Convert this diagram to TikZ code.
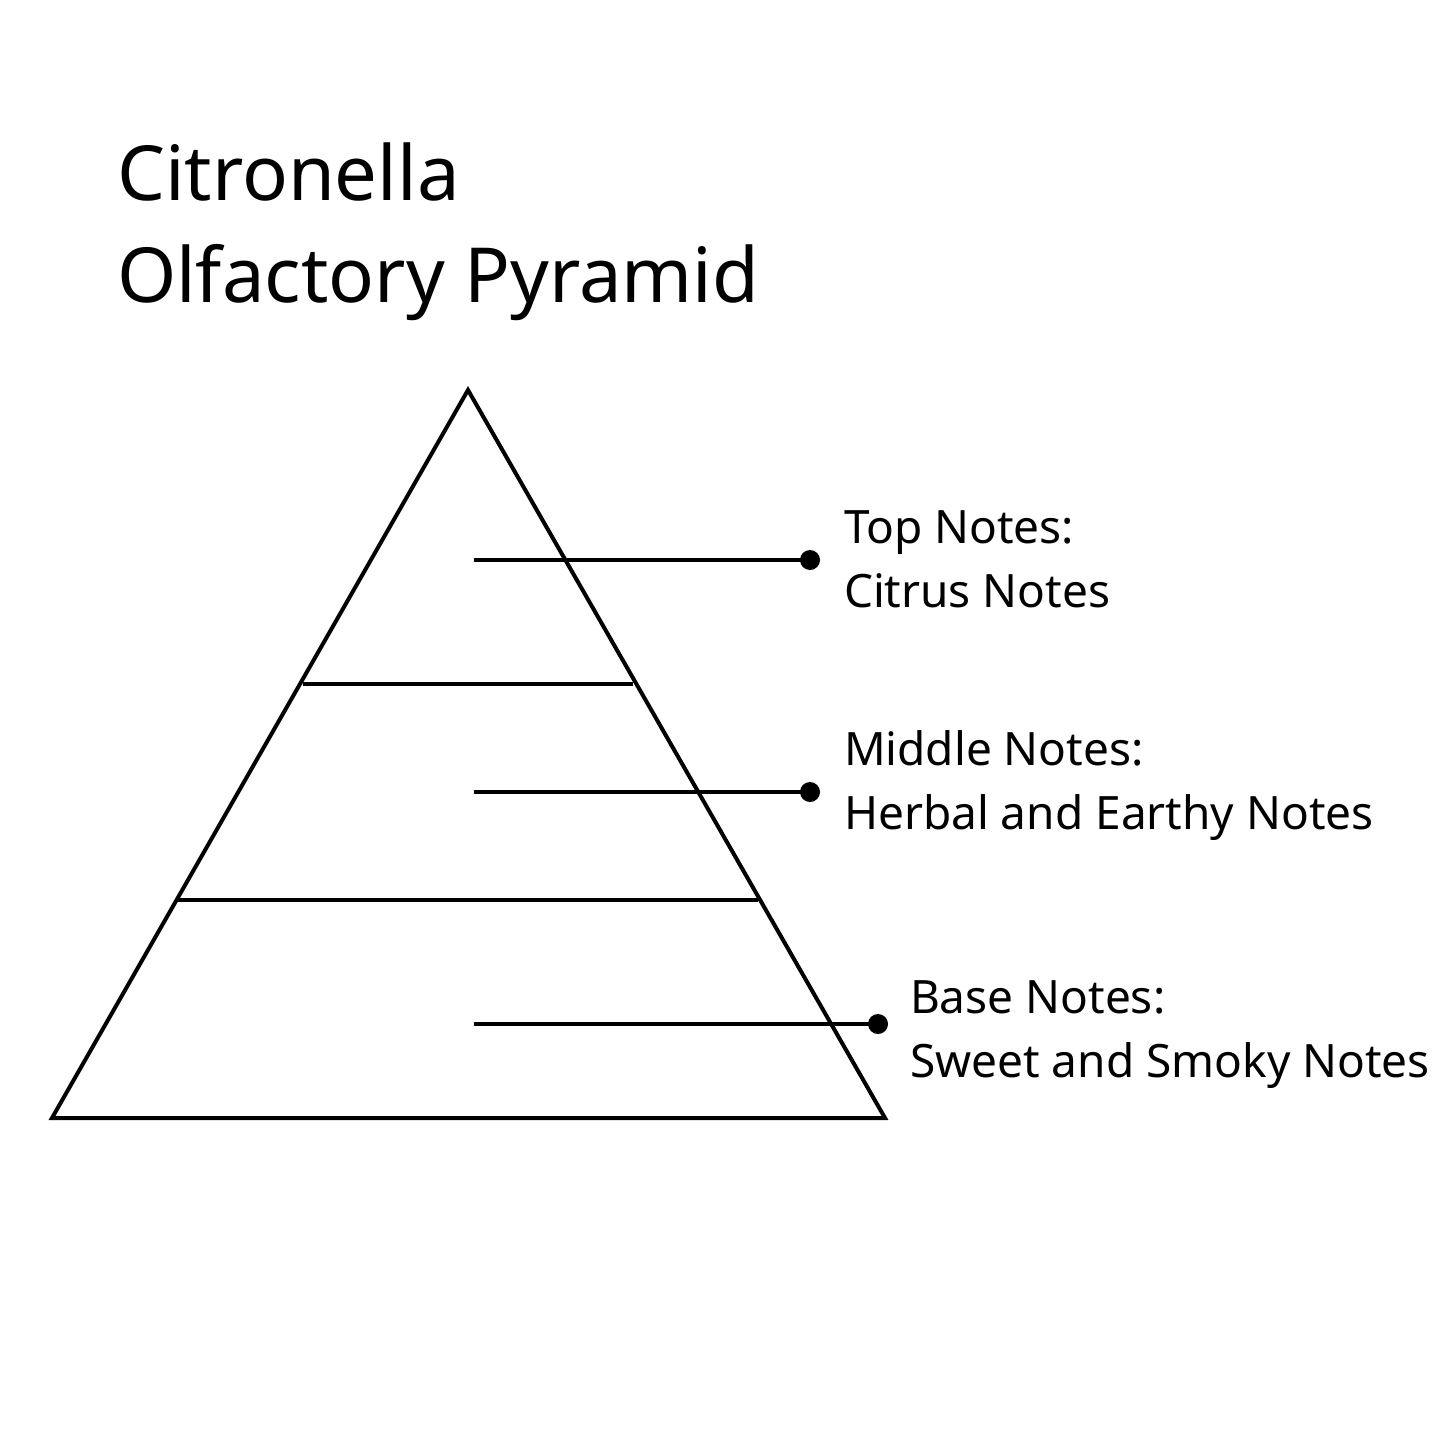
\documentclass[tikz,border=0pt]{standalone}
\usepackage{fontspec}
\setmainfont{Noto Sans}
\begin{document}
\begin{tikzpicture}[x=0.5pt,y=-0.5pt,
  every path/.style={line width=2pt},
  dot/.style={circle,fill=black,inner sep=0pt,minimum size=10pt},
  head/.style={anchor=base west,inner sep=0pt,font=\fontsize{23}{28}\selectfont\bfseries},
  desc/.style={anchor=base west,inner sep=0pt,font=\fontsize{23}{28}\selectfont},
  title/.style={anchor=base west,inner sep=0pt,font=\fontsize{38}{46}\selectfont\bfseries}]
  \useasboundingbox (0,0) rectangle (1445,1445);
  % title
  \node[title] (T1) at (115,200) {Citronella};
  \node[title] (T2) at (115,302) {Olfactory Pyramid};
  % pyramid
  \coordinate (apex) at (468,390);
  \coordinate (bl) at (52,1118);
  \coordinate (br) at (885,1118);
  \draw[line join=miter] (apex) -- (br) -- (bl) -- cycle;
  \coordinate (d1l) at (303,684); \coordinate (d1r) at (633,684);
  \coordinate (d2l) at (177,900); \coordinate (d2r) at (758,900);
  \draw (d1l) -- (d1r);
  \draw (d2l) -- (d2r);
  % leaders
  \coordinate (s1) at (474,560); \node[dot] (p1) at (810,560) {};
  \coordinate (s2) at (474,792); \node[dot] (p2) at (810,792) {};
  \coordinate (s3) at (474,1024); \node[dot] (p3) at (878,1024) {};
  \draw (s1) -- (p1.center);
  \draw (s2) -- (p2.center);
  \draw (s3) -- (p3.center);
  % labels
  \node[head] (top) at (842,543) {Top Notes:};
  \node[desc] (topd) at (842,607) {Citrus Notes};
  \node[head] (mid) at (842,765) {Middle Notes:};
  \node[desc] (midd) at (842,829) {Herbal and Earthy Notes};
  \node[head] (base) at (908,1013) {Base Notes:};
  \node[desc] (based) at (908,1077) {Sweet and Smoky Notes};
\end{tikzpicture}
\end{document}
